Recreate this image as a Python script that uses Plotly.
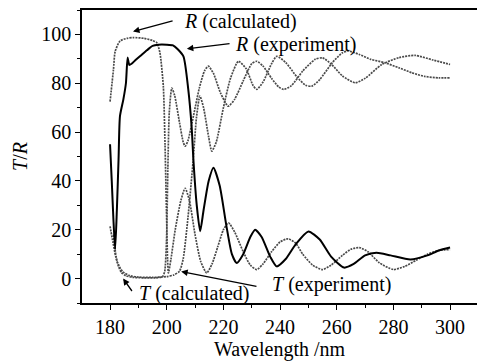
import plotly.graph_objects as go

# ---------------- data ----------------
r_calc_wl = [180, 181.2, 181.8, 183.5, 186, 188.2, 192, 195, 196.5, 197.6, 198.8, 199.4, 199.9, 200.3, 200.6,
             201.5, 203, 205, 206.5, 208, 210, 212, 214.1, 216, 218, 220, 221.8, 224, 227, 229.5, 231.8,
             234, 237, 240, 242.8, 245.5, 248, 251.5, 255, 258, 262, 265, 268, 271, 275, 280, 284, 288,
             292, 296, 300]
r_calc = [72.5, 85.6, 93, 97.3, 98.4, 98.7, 98.4, 97.5, 96.6, 92.5, 78.8, 55, 28, 8, 2.3,
          8, 20, 32, 37, 32, 18, 7, 2.3, 6, 13, 20, 22.8, 19, 11, 5.5, 3.7,
          6, 11, 15, 16.3, 14.5, 10, 5.5, 3.7, 5.5, 9.5, 12, 12.7, 11, 6.5, 3.7, 5, 7.5,
          10, 11.5, 11.9]

t_calc_wl = [180, 181, 182, 183, 184, 185.5, 188, 192, 196, 198.5, 199.3, 199.9, 200.4, 200.9, 201.8,
             202.8, 204.5, 205.8, 206.5, 207.5, 209.5, 211.5, 213.3, 214.7, 216.5, 219, 221.7, 224, 227,
             230, 231.8, 234, 237, 239.5, 241.3, 244, 248, 252.4, 255, 258.2, 262, 266.5, 270, 275.9,
             282, 287.7, 294, 300]
t_calc = [21.4, 15, 9, 5, 2.5, 1.2, 0.5, 0.3, 0.3, 0.8, 3, 15, 45, 68, 78,
          75, 64, 56, 54.2, 56.5, 67, 78, 85, 87, 84, 76, 70.6, 73.5, 81,
          88, 89, 87, 82, 78.5, 77.5, 79, 85, 89.8, 90.4, 87.7, 83, 80.2, 82, 87.7,
          90.5, 91.4, 89.5, 87.7]

r_exp_wl = [180, 180.6, 181.2, 181.8, 182.4, 183, 183.5, 184.7, 185.6, 186.2, 186.8, 187.6, 189, 191,
            193, 195, 197, 200, 202.2, 203.8, 205.9, 207.6, 208.8, 209.4, 210.6, 211.8, 213, 214.8,
            216.5, 218.7, 221, 223, 224.7, 227, 229.5, 231.2, 233.5, 236.5, 238.8, 242, 245.5, 250,
            254, 258, 262.6, 266, 270, 274, 279, 286, 292, 296, 300]
r_exp = [55, 40, 24, 12, 28, 48.8, 66.5, 73.4, 80, 90.5, 87.5, 88, 89.5, 91.5,
         93.5, 95.3, 95.8, 95.8, 95.5, 94, 91, 77.5, 62, 49, 30, 19.4, 28, 40,
         45.4, 38, 22, 10, 6.4, 10, 17, 20, 17, 9, 5, 8, 14, 19.3,
         16, 9, 4.5, 6, 9.5, 10.6, 9.5, 7.8, 9.5, 11.5, 12.7]

t_exp_wl = [181.2, 182.5, 184.5, 187, 190, 195, 200, 202.5, 204.5, 205.8, 207.5, 209.3, 210.5, 211.7,
            213, 214.8, 215.9, 217.5, 220, 222.5, 225.3, 228, 230.5, 231.8, 234, 237, 238.8, 242,
            246, 249, 251.2, 254, 258.5, 262, 264.1, 268, 272, 277, 282, 286.5, 291, 296, 300]
t_exp = [18, 7, 2.8, 1.2, 0.6, 0.5, 0.8, 1.5, 3, 8, 25, 48, 66, 74.7,
         70, 58, 52.2, 56, 70, 82, 89, 86, 79, 77.5, 80.5, 88, 91, 88.5,
         82.5, 79.2, 78.8, 81.5, 88.5, 92.5, 93.2, 91.8, 89.8, 88.4, 86.3, 84.3, 82.8, 82.2, 82.2]

x_ticks = [180, 200, 220, 240, 260, 280, 300]
y_ticks = [0, 20, 40, 60, 80, 100]

FONT = "Liberation Serif, Times New Roman, DejaVu Serif, serif"
GRAY = "#4a4a4a"

fig = go.Figure()
gray_line = dict(color=GRAY, width=1.7, dash="2px,1px", shape="spline", smoothing=0.6)
fig.add_trace(go.Scatter(x=r_calc_wl, y=r_calc, mode="lines", line=gray_line, name="R (calculated)"))
fig.add_trace(go.Scatter(x=t_calc_wl, y=t_calc, mode="lines", line=gray_line, name="T (calculated)"))
fig.add_trace(go.Scatter(x=t_exp_wl, y=t_exp, mode="lines", line=gray_line, name="T (experiment)"))
fig.add_trace(go.Scatter(x=r_exp_wl, y=r_exp, mode="lines",
                         line=dict(color="black", width=2, shape="spline", smoothing=0.6),
                         name="R (experiment)"))

# annotations: (text, text-left x, text y, arrow head x, y, arrow tail x, y)
labels = [
    ("<i>R</i> (calculated)", 205.4, 105.3, 188.1, 101.2, 202.6, 105.7),
    ("<i>R</i> (experiment)", 223.4, 95.9, 207.1, 94.1, 222.7, 96.3),
    ("<i>T</i> (calculated)", 189.5, -6.1, 184.6, 0.0, 188.1, -5.7),
    ("<i>T</i> (experiment)", 236.5, -2.5, 205.1, 2.9, 232.2, -3.3),
]
for txt, tx, ty, hx, hy, ax_, ay_ in labels:
    fig.add_annotation(x=tx, y=ty, text=txt, showarrow=False, xanchor="left", yanchor="middle",
                       font=dict(family=FONT, size=20, color="black"))
    fig.add_annotation(x=hx, y=hy, ax=ax_, ay=ay_, axref="x", ayref="y", text="",
                       showarrow=True, arrowhead=2, arrowsize=1, arrowwidth=1.3, arrowcolor="black")

axis_common = dict(showline=True, linecolor="black", linewidth=1.6, ticks="outside", ticklen=5,
                   tickwidth=1.4, tickcolor="black", showgrid=False, zeroline=False,
                   tickfont=dict(family=FONT, size=20, color="black"))
fig.update_xaxes(range=[170.1, 309.5], tickvals=x_ticks, mirror=True,
                 minor=dict(ticks="outside", ticklen=3, tickwidth=1.2, tickcolor="black", dtick=10, tick0=170),
                 title=dict(text="Wavelength /nm", standoff=4, font=dict(family=FONT, size=20, color="black")),
                 **axis_common)
fig.update_yaxes(range=[-10, 110], tickvals=y_ticks, mirror=False,
                 minor=dict(ticks="outside", ticklen=3, tickwidth=1.2, tickcolor="black", dtick=10, tick0=0),
                 title=dict(text="<i>T</i>/<i>R</i>", standoff=8, font=dict(family=FONT, size=20, color="black")),
                 **axis_common)

fig.update_layout(width=477, height=364, margin=dict(l=82, r=0, t=10, b=61),
                  plot_bgcolor="white", paper_bgcolor="white", showlegend=False,
                  font=dict(family=FONT, size=20, color="black"))

fig.write_html("out.html")
